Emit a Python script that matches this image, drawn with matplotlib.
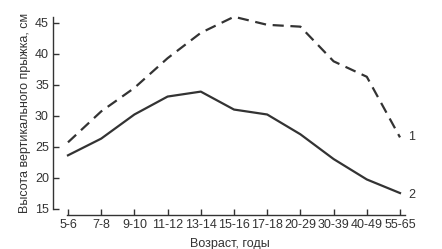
import matplotlib.pyplot as plt

plt.rcParams['font.family'] = ['Liberation Sans', 'DejaVu Sans']

# Возрастные группы и высота прыжка
vozrast = ['5-6', '7-8', '9-10', '11-12', '13-14', '15-16', '17-18',
           '20-29', '30-39', '40-49', '55-65']
kriv1 = [25.7, 30.7, 34.5, 39.3, 43.4, 46.0, 44.7, 44.4, 38.8, 36.3, 26.5]
kriv2 = [23.6, 26.3, 30.2, 33.1, 33.9, 31.0, 30.2, 27.0, 23.0, 19.7, 17.5]

col = '#333333'
fig = plt.figure(figsize=[4.42, 2.49], dpi=100)
ax = fig.add_axes([0.12, 0.1365, 0.80, 0.8235])

x = range(len(vozrast))
ax.plot(x, kriv1, '--', color=col, linewidth=1.6, dashes=(5, 3))
ax.plot(x, kriv2, '-', color=col, linewidth=1.6)

ax.text(10.25, kriv1[-1], '1', fontsize=9, color=col, va='center')
ax.text(10.25, kriv2[-1] - 0.3, '2', fontsize=9, color=col, va='center')

ax.set_xlim(-0.45, 10.2)
ax.set_ylim(13.95, 47.1)
ax.set_xticks(list(x))
ax.set_xticklabels(vozrast)
ax.set_yticks([15, 20, 25, 30, 35, 40, 45])

for s in ['top', 'right']:
    ax.spines[s].set_visible(False)
ax.spines['left'].set_bounds(15, 45.9)
ax.spines['bottom'].set_bounds(-0.03, 10.15)
for s in ['left', 'bottom']:
    ax.spines[s].set_color(col)
    ax.spines[s].set_linewidth(1.0)

ax.tick_params(axis='both', direction='in', length=4, width=1.0, color=col,
               labelsize=9, labelcolor=col, pad=3)

ax.set_xlabel('Возраст, годы', fontsize=9, color=col, labelpad=5)
ax.set_ylabel('Высота вертикального прыжка, см', fontsize=9, color=col, labelpad=3)

plt.savefig('out.png', dpi=100)
